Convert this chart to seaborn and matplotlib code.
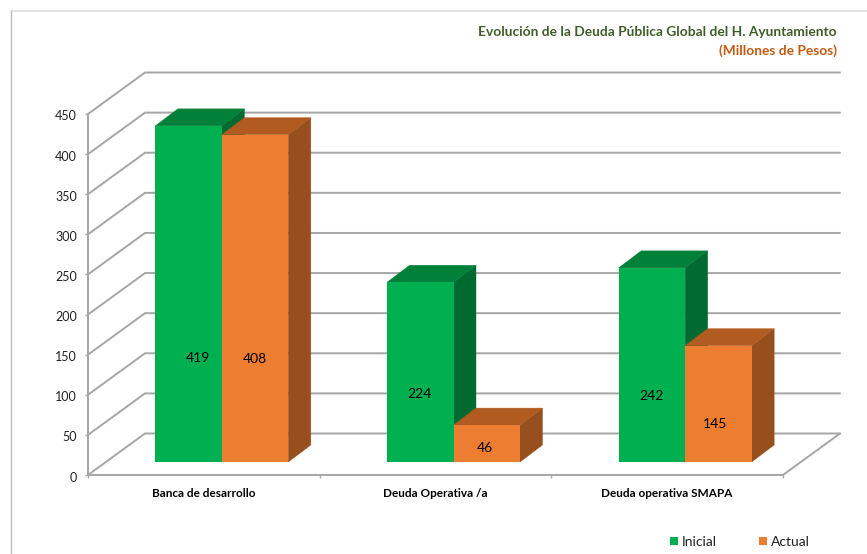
import matplotlib
matplotlib.use("Agg")
import matplotlib.pyplot as plt
from matplotlib.lines import Line2D
from matplotlib.patches import Polygon, Patch
from matplotlib.transforms import ScaledTranslation
import pandas as pd
import seaborn as sns

categories = ["Banca de desarrollo", "Deuda Operativa /a", "Deuda operativa SMAPA"]
inicial = [419, 224, 242]
actual = [408, 46, 145]
series_names = ["Inicial", "Actual"]
yticks = [0, 50, 100, 150, 200, 250, 300, 350, 400, 450]
title_main = "Evolución de la Deuda Pública Global del H. Ayuntamiento"
title_sub = "(Millones de Pesos)"

W, H = 867, 554
sns.set_theme(style="white")
plt.rcParams["font.family"] = ["Lato", "DejaVu Sans"]

df = pd.DataFrame({
    "categoria": categories * 2,
    "serie": [series_names[0]] * 3 + [series_names[1]] * 3,
    "valor": inicial + actual,
})

fig = plt.figure(figsize=(W / 100, H / 100), dpi=100, facecolor="white")
L, R, B, T = 88, 783, 475, 114
ax = fig.add_axes([L / W, 1 - B / H, (R - L) / W, (B - T) / H])
ax.patch.set_alpha(0)

FRONT = ["#00B050", "#ED7D31"]
TOP = ["#008038", "#B25B20"]
SIDE = ["#006A30", "#964F1D"]
GRID = "#A6A6A6"

sns.barplot(data=df, x="categoria", y="valor", hue="serie", palette=FRONT,
            width=0.574, gap=0, saturation=1, legend=False, ax=ax, linewidth=0)
ax.set_xlim(-0.5, 2.5)
ax.set_ylim(0, 450)

px_x = 3 / (R - L)          # data units per pixel, horizontal
px_y = 450 / (B - T)        # data units per pixel, vertical

# back wall and floor
wx, wy = 57 * px_x, 41.5 * px_y
for v in yticks:
    ax.plot([-0.5, -0.5 + wx, 2.5 + wx], [v, v + wy, v + wy], color=GRID, lw=1.4,
            clip_on=False, zorder=1, solid_joinstyle="miter")
ax.plot([2.5, 2.5 + wx], [0, wy], color=GRID, lw=1.4, clip_on=False, zorder=1)

# extruded bars
sx, sy = 18 * px_x, 13 * px_y
bx, by = 22.5 * px_x, 17 * px_y
label_frac = [[0.3125, 0.383, 0.345], [0.318, 0.40, 0.336]]
label_dx = [[9, -1, 0], [0, -2, -3]]
for s, cont in enumerate(ax.containers):
    for c, p in enumerate(cont.patches):
        p.set_x(p.get_x() + sx)
        p.set_y(p.get_y() + sy)
        x0, y0, w, h = p.get_x(), p.get_y(), p.get_width(), p.get_height()
        x1, y1 = x0 + w, y0 + h
        z = 3 + c * 3 + s * 1.5
        p.set_zorder(z + 0.2)
        p.set_clip_on(False)
        ax.add_patch(Polygon([(x1, y0), (x1 + bx, y0 + by), (x1 + bx, y1 + by), (x1, y1)],
                             closed=True, fc=SIDE[s], ec=SIDE[s], lw=0.3, zorder=z, clip_on=False))
        ax.add_patch(Polygon([(x0, y1), (x1, y1), (x1 + bx, y1 + by), (x0 + bx, y1 + by)],
                             closed=True, fc=TOP[s], ec=TOP[s], lw=0.3, zorder=z + 0.1, clip_on=False))
        ax.text(x0 + w / 2 + label_dx[s][c] * px_x, y0 + h * label_frac[s][c] - 1 * px_y, f"{h:.0f}",
                ha="center", va="center", fontsize=10, color="black", zorder=30)

# axes
for side in ("top", "right"):
    ax.spines[side].set_visible(False)
for side in ("left", "bottom"):
    ax.spines[side].set_color(GRID)
    ax.spines[side].set_linewidth(1.4)
    ax.spines[side].set_zorder(2)
ax.set_yticks(yticks)
ax.set_xlabel("")
ax.set_ylabel("")
ax.tick_params(axis="y", left=True, length=2, width=1, color=GRID, labelsize=9,
               labelcolor="#222222", pad=6)
down = ScaledTranslation(0, -1.5 / 100, fig.dpi_scale_trans)
for lab in ax.get_yticklabels():
    lab.set_transform(lab.get_transform() + down)
ax.set_xticks(range(3))
ax.set_xticklabels(categories, fontsize=8.5, fontweight="bold", color="black")
ax.tick_params(axis="x", bottom=False, pad=3.5)
ax.set_xticks([-0.5, 0.5, 1.5, 2.5], minor=True)
ax.tick_params(axis="x", which="minor", bottom=True, length=2, width=1, color=GRID)

# titles
fig.text(837 / W, 1 - 32 / H, title_main, ha="right", va="center", fontsize=9.9,
         fontweight="bold", color="#3F5F2A")
fig.text(837 / W, 1 - 51 / H, title_sub, ha="right", va="center", fontsize=9.9,
         fontweight="bold", color="#C55A11")

# legend
handles = [Patch(fc=FRONT[i], ec="none", label=series_names[i]) for i in range(2)]
fig.legend(handles=handles, loc="center left", bbox_to_anchor=(657.5 / W, 1 - 542 / H), ncol=2,
           frameon=False, fontsize=10, handlelength=0.58, handleheight=0.58,
           handletextpad=0.3, columnspacing=3.0, labelcolor="#222222")

# outer frame fragments
fig.add_artist(Line2D([11 / W, 1], [1 - 10.5 / H] * 2, color="#DDDDDD", lw=1.2))
fig.add_artist(Line2D([11 / W, 11 / W], [0, 1 - 10.5 / H], color="#BDBDBD", lw=1.0))

fig.savefig("out.png", dpi=100, facecolor="white")
